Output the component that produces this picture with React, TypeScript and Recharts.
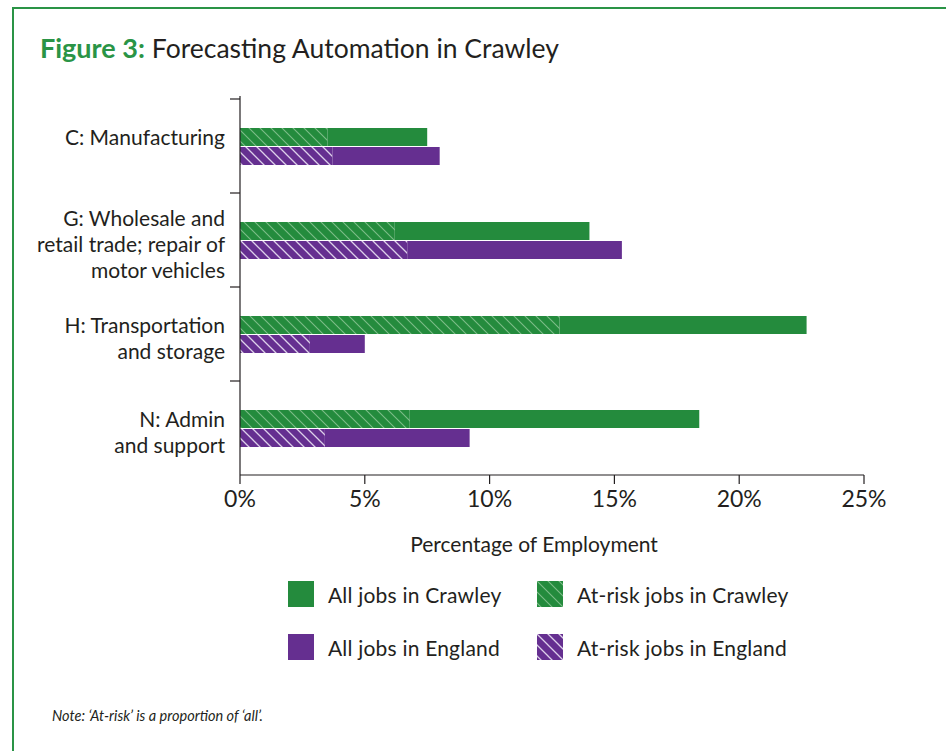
import React from "react";
import { Bar, BarChart, XAxis, YAxis } from "recharts";

const categories = [
  "C: Manufacturing",
  "G: Wholesale and\nretail trade; repair of\nmotor vehicles",
  "H: Transportation\nand storage",
  "N: Admin\nand support",
];
const crawleyAll = [7.5, 14.0, 22.7, 18.4];
const crawleyAtRisk = [3.5, 6.2, 12.8, 6.8];
const englandAll = [8.0, 15.3, 5.0, 9.2];
const englandAtRisk = [3.7, 6.7, 2.8, 3.4];
const xTicks = [0, 5, 10, 15, 20, 25];

const GREEN = "#248b3d";
const PURPLE = "#652f90";
const TEXT = "#231f20";
const FONT = "Lato, 'Noto Sans', sans-serif";

// layout of the plot inside the 946x751 svg
const M = { top: 96, right: 82, left: 10, bottom: 196 };
const Y_W = 230;
const X_H = 80;
const Y_PAD = 3;
const PLOT_H = 751 - M.top - M.bottom - X_H;

const data = categories.map((name, i) => ({
  name,
  crawleyRisk: crawleyAtRisk[i],
  crawleyRest: crawleyAll[i] - crawleyAtRisk[i],
  englandRisk: englandAtRisk[i],
  englandRest: englandAll[i] - englandAtRisk[i],
}));

const legendItems = [
  { label: "All jobs in Crawley", fill: GREEN },
  { label: "At-risk jobs in Crawley", fill: "url(#hatchGreen)" },
  { label: "All jobs in England", fill: PURPLE },
  { label: "At-risk jobs in England", fill: "url(#hatchPurple)" },
];

function CategoryTick(props: any) {
  const { x, y, payload } = props;
  const lines = String(payload.value).split("\n");
  const band = (PLOT_H - Y_PAD) / categories.length;
  const lh = 26;
  // single-line labels sit like the first line of a two-line block
  const n = Math.max(lines.length, 2);
  const first = y - ((n - 1) * lh) / 2 + 3;
  const axisX = x + 15;
  return (
    <g>
      <line x1={axisX - 10} x2={axisX} y1={y - band / 2} y2={y - band / 2} stroke={TEXT} strokeWidth={1.2} />
      <text x={x} y={first} textAnchor="end" dominantBaseline="central" fontSize={21} fill={TEXT} fontFamily={FONT}>
        {lines.map((l, i) => (
          <tspan key={i} x={x} y={first + i * lh}>
            {l}
          </tspan>
        ))}
      </text>
    </g>
  );
}

function Swatch({ fill }: { fill: string }) {
  return (
    <svg width={26} height={26} style={{ display: "block" }}>
      <rect width={26} height={26} fill={fill} />
    </svg>
  );
}

export default function App() {
  return (
    <div style={{ position: "absolute", left: 0, top: 0, width: 946, height: 751, overflow: "hidden", background: "#fff", fontFamily: FONT }}>
      <div style={{ position: "absolute", left: 12, top: 7, width: 940, height: 760, borderTop: "2px solid #2a9446", borderLeft: "2px solid #2a9446" }} />
      <div style={{ position: "absolute", left: 40, top: 31, fontSize: 27, color: TEXT, whiteSpace: "nowrap", lineHeight: "34px" }}>
        <span style={{ color: "#2a9446", fontWeight: 700 }}>Figure 3:</span>{" "}
        <span style={{ fontSize: 26.5 }}>Forecasting Automation in Crawley</span>
      </div>

      <div style={{ position: "absolute", left: 0, top: 0 }}>
        <BarChart width={946} height={751} data={data} layout="vertical" margin={M} barSize={18} barGap={1}>
          <defs>
            <pattern id="hatchGreen" patternUnits="userSpaceOnUse" width={11} height={11}>
              <rect width={11} height={11} fill={GREEN} />
              <path d="M0,0 L11,11 M-1,10 L1,12 M10,-1 L12,1" stroke="#7cbd88" strokeWidth={1.1} />
            </pattern>
            <pattern id="hatchPurple" patternUnits="userSpaceOnUse" width={11} height={11}>
              <rect width={11} height={11} fill={PURPLE} />
              <path d="M0,0 L11,11 M-1,10 L1,12 M10,-1 L12,1" stroke="#ddd0ea" strokeWidth={1.3} />
            </pattern>
          </defs>
          <XAxis
            type="number"
            domain={[0, 25]}
            ticks={xTicks}
            tickFormatter={(v) => `${v}%`}
            height={X_H}
            tickSize={9}
            tickMargin={7}
            stroke={TEXT}
            strokeWidth={1.2}
            tick={{ fontSize: 23, fill: TEXT, fontFamily: FONT }}
            label={{ value: "Percentage of Employment", position: "insideBottom", offset: 3, dx: -18, fontSize: 21, fill: TEXT, fontFamily: FONT }}
          />
          <YAxis
            type="category"
            dataKey="name"
            width={Y_W}
            tickLine={false}
            tickSize={0}
            tickMargin={15}
            stroke={TEXT}
            strokeWidth={1.2}
            interval={0}
            padding={{ top: Y_PAD, bottom: 0 }}
            tick={<CategoryTick />}
          />
          <Bar dataKey="crawleyRisk" stackId="c" fill="url(#hatchGreen)" isAnimationActive={false} />
          <Bar dataKey="crawleyRest" stackId="c" fill={GREEN} isAnimationActive={false} />
          <Bar dataKey="englandRisk" stackId="e" fill="url(#hatchPurple)" isAnimationActive={false} />
          <Bar dataKey="englandRest" stackId="e" fill={PURPLE} isAnimationActive={false} />
        </BarChart>
      </div>

      {legendItems.map((item, i) => {
        const col = i % 2;
        const row = Math.floor(i / 2);
        return (
          <div
            key={item.label}
            style={{ position: "absolute", left: col ? 537 : 288, top: row ? 634 : 581, display: "flex", alignItems: "center", gap: 14, fontSize: 21, letterSpacing: 0.2, color: TEXT, whiteSpace: "nowrap" }}
          >
            <Swatch fill={item.fill} />
            <span>{item.label}</span>
          </div>
        );
      })}

      <div style={{ position: "absolute", left: 52, top: 707, fontSize: 14.5, fontStyle: "italic", color: TEXT, whiteSpace: "nowrap" }}>
        Note: ‘At-risk’ is a proportion of ‘all’.
      </div>
    </div>
  );
}
